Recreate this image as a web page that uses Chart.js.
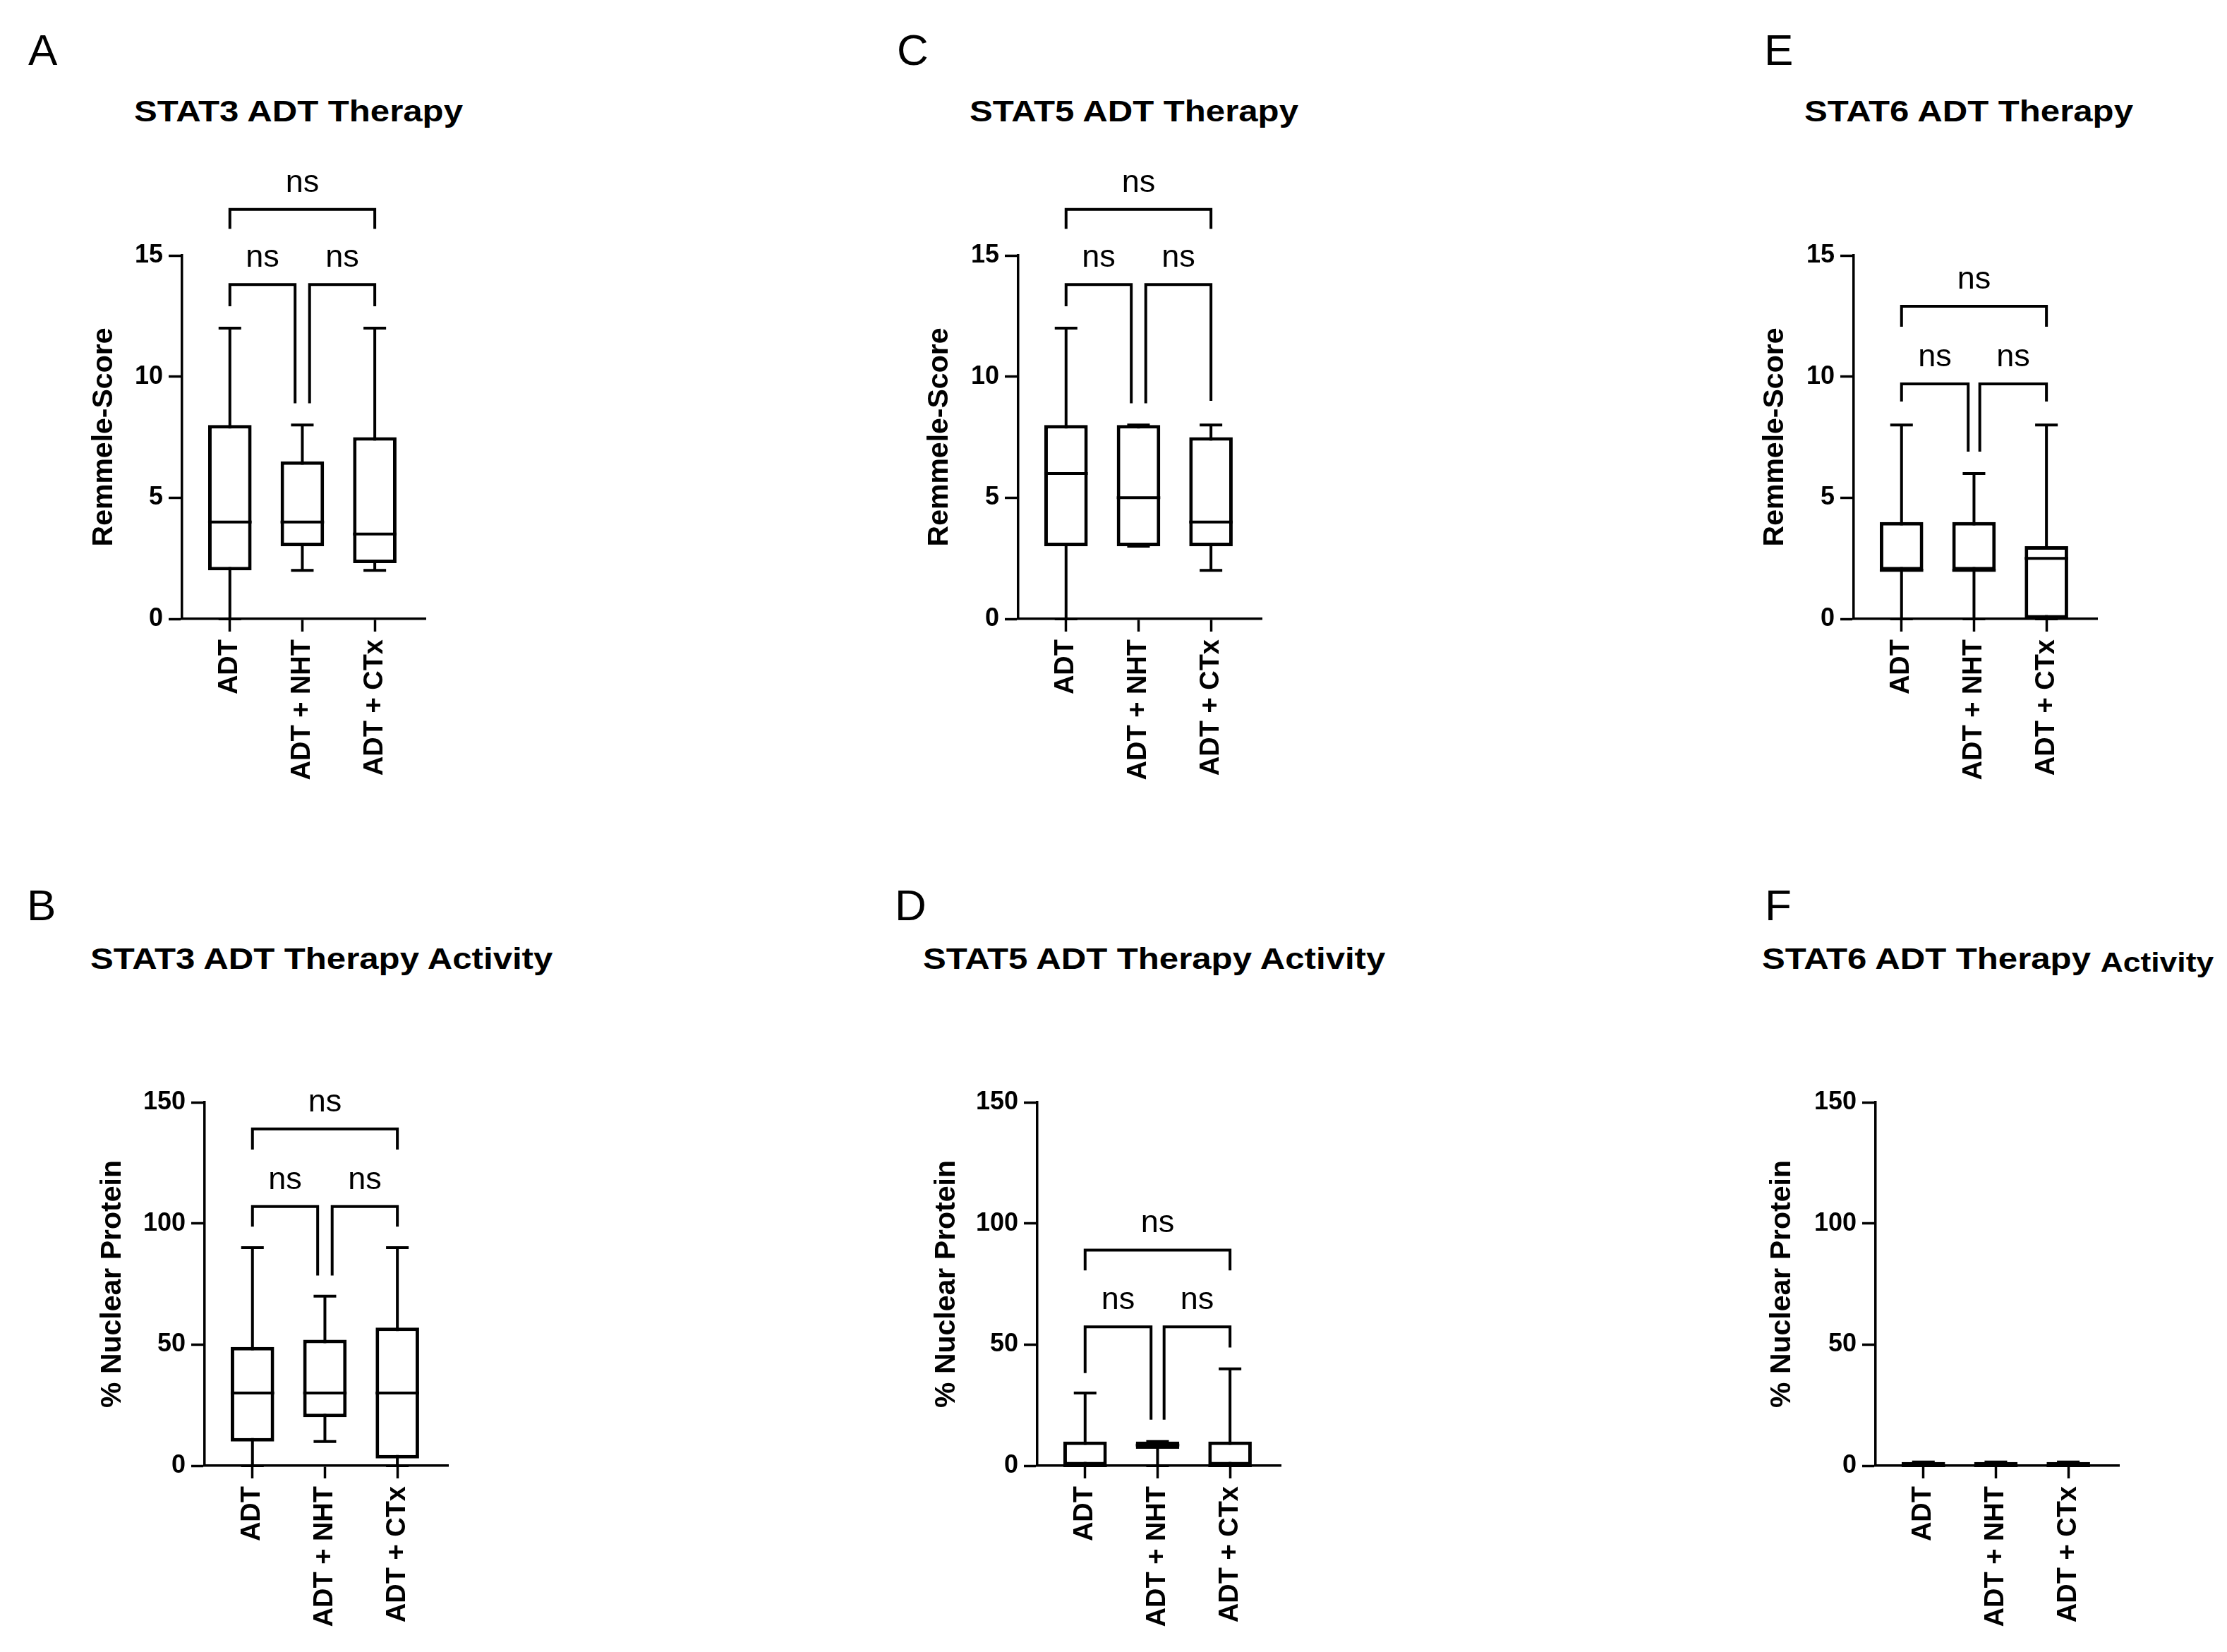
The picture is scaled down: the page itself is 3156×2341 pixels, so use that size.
<!DOCTYPE html>
<html>
<head>
<meta charset="utf-8">
<script src="https://cdn.jsdelivr.net/npm/chart.js@4.4.0/dist/chart.umd.min.js"></script>
<style>
html, body { margin: 0; padding: 0; background: #fff; }
body { width: 3156px; height: 2341px; position: relative; overflow: hidden; font-family: "Liberation Sans", Arial, sans-serif; color: #000; }
.letter { position: absolute; font-size: 62px; line-height: 1; font-weight: normal; }
.title { position: absolute; font-size: 42px; line-height: 1; font-weight: bold; transform: scaleX(1.17); transform-origin: 0 0; white-space: nowrap; }
.title span { font-size: 38px; position: relative; top: 4px; }
.panel { position: absolute; }
</style>
</head>
<body>
<script>
const groups = ["ADT", "ADT + NHT", "ADT + CTx"];
const scoreTicks = [0, 5, 10, 15];
const nuclearTicks = [0, 50, 100, 150];

// one row per group: [min, q1, median, q3, max]
const stat3Score = [[0, 2, 4, 8, 12], [2, 3, 4, 6.5, 8], [2, 2.3, 3.5, 7.5, 12]];
const stat5Score = [[0, 3, 6, 8, 12], [3, 3, 5, 8, 8], [2, 3, 4, 7.5, 8]];
const stat6Score = [[0, 2, 2, 4, 8], [0, 2, 2, 4, 6], [0, 0, 2.5, 3, 8]];
const stat3Nuclear = [[0, 10, 30, 49, 90], [10, 20, 30, 52, 70], [0, 3, 30, 57, 90]];
const stat5Nuclear = [[0, 0, 0, 10, 30], [0, 7, 8.5, 10, 10], [0, 0, 0, 10, 40]];
const stat6Nuclear = [[0, 0, 0, 1.5, 1.5], [0, 0, 0, 1.5, 1.5], [0, 0, 0, 1.5, 1.5]];

// significance brackets: [from group, to group, bar level, left leg end, right leg end]
const stat3ScoreNs = [[0, 2, 16.9, 16.1, 16.1], [0, 0.9, 13.8, 12.9, 8.9], [1.1, 2, 13.8, 8.9, 12.9]];
const stat5ScoreNs = [[0, 2, 16.9, 16.1, 16.1], [0, 0.9, 13.8, 12.9, 8.9], [1.1, 2, 13.8, 8.9, 9.0]];
const stat6ScoreNs = [[0, 2, 12.9, 12.06, 12.06], [0, 0.92, 9.7, 8.97, 6.9], [1.08, 2, 9.7, 6.9, 8.97]];
const stat3NuclearNs = [[0, 2, 139, 130.5, 130.5], [0, 0.9, 107, 98.7, 78.5], [1.1, 2, 107, 78.5, 98.7]];
const stat5NuclearNs = [[0, 2, 89, 80.6, 80.6], [0, 0.91, 57.3, 38.2, 19], [1.09, 2, 57.3, 19, 48.8]];
const stat6NuclearNs = [];

const Y_W = 180, PAD_TOP = 162, PAD_R = 20, PLOT_W = 345, PLOT_H = 515;

const panels = [
	{ letter: "A", lx: 40, ly: 92, title: "STAT3 ADT Therapy", tx: 190, ty: 173, axisX: 258, plotTop: 362, xH: 280, titlePad: 45, yTitle: "Remmele-Score", yTicks: scoreTicks, stats: stat3Score, ns: stat3ScoreNs },
	{ letter: "C", lx: 1271, ly: 92, title: "STAT5 ADT Therapy", tx: 1374, ty: 173, axisX: 1443, plotTop: 362, xH: 280, titlePad: 44, yTitle: "Remmele-Score", yTicks: scoreTicks, stats: stat5Score, ns: stat5ScoreNs },
	{ letter: "E", lx: 2500, ly: 92, title: "STAT6 ADT Therapy", tx: 2557, ty: 173, axisX: 2627, plotTop: 362, xH: 280, titlePad: 44, yTitle: "Remmele-Score", yTicks: scoreTicks, stats: stat6Score, ns: stat6ScoreNs },
	{ letter: "B", lx: 38, ly: 1304, title: "STAT3 ADT Therapy Activity", tx: 128, ty: 1374, axisX: 290, plotTop: 1562, xH: 260, titlePad: 25, yTitle: "% Nuclear Protein", yTicks: nuclearTicks, stats: stat3Nuclear, ns: stat3NuclearNs },
	{ letter: "D", lx: 1268, ly: 1304, title: "STAT5 ADT Therapy Activity", tx: 1308, ty: 1374, axisX: 1470, plotTop: 1562, xH: 260, titlePad: 27, yTitle: "% Nuclear Protein", yTicks: nuclearTicks, stats: stat5Nuclear, ns: stat5NuclearNs },
	{ letter: "F", lx: 2501, ly: 1304, title: "STAT6 ADT Therapy <span>Activity</span>", tx: 2497, ty: 1374, axisX: 2658, plotTop: 1562, xH: 260, titlePad: 23, yTitle: "% Nuclear Protein", yTicks: nuclearTicks, stats: stat6Nuclear, ns: stat6NuclearNs },
];

Chart.defaults.font.family = '"Liberation Sans", Arial, sans-serif';
Chart.defaults.color = "#000";

const axisGrid = (len) => ({
	display: true,
	offset: false,
	drawOnChartArea: false,
	drawTicks: true,
	tickLength: len,
	tickWidth: 3.5,
	tickColor: "#000",
});

const boxPlugin = (p) => ({
	id: "boxWhiskers",
	beforeDatasetsDraw(chart) {
		const { ctx, scales: { x, y } } = chart;
		const bars = chart.getDatasetMeta(0).data;
		ctx.save();
		ctx.strokeStyle = "#000";
		ctx.lineWidth = 4;
		p.stats.forEach((s, i) => {
			const cx = x.getPixelForValue(i);
			const cap = bars[i].width * 0.26;
			ctx.beginPath();
			ctx.moveTo(cx, y.getPixelForValue(s[0]));
			ctx.lineTo(cx, y.getPixelForValue(s[4]));
			[s[0], s[4]].forEach((v) => {
				ctx.moveTo(cx - cap, y.getPixelForValue(v));
				ctx.lineTo(cx + cap, y.getPixelForValue(v));
			});
			ctx.stroke();
		});
		ctx.restore();
	},
	afterDatasetsDraw(chart) {
		const { ctx, scales: { x, y } } = chart;
		const bars = chart.getDatasetMeta(0).data;
		ctx.save();
		ctx.strokeStyle = "#000";
		ctx.lineWidth = 4;
		p.stats.forEach((s, i) => {
			const cx = x.getPixelForValue(i);
			const hw = bars[i].width / 2;
			const my = y.getPixelForValue(s[2]);
			ctx.beginPath();
			ctx.moveTo(cx - hw, my);
			ctx.lineTo(cx + hw, my);
			ctx.stroke();
		});
		ctx.restore();
	},
	afterDraw(chart) {
		const { ctx, scales: { x, y } } = chart;
		ctx.save();
		ctx.strokeStyle = "#000";
		ctx.fillStyle = "#000";
		ctx.lineWidth = 4;
		ctx.lineJoin = "miter";
		ctx.font = '45px "Liberation Sans", Arial, sans-serif';
		ctx.textAlign = "center";
		ctx.textBaseline = "alphabetic";
		p.ns.forEach(([a, b, lvl, endA, endB]) => {
			const xa = x.getPixelForValue(a);
			const xb = x.getPixelForValue(b);
			const yl = y.getPixelForValue(lvl);
			ctx.beginPath();
			ctx.moveTo(xa, y.getPixelForValue(endA));
			ctx.lineTo(xa, yl);
			ctx.lineTo(xb, yl);
			ctx.lineTo(xb, y.getPixelForValue(endB));
			ctx.stroke();
			ctx.fillText("ns", (xa + xb) / 2, yl - 25);
		});
		ctx.restore();
	},
});

const makePanel = (p) => {
	const letter = document.createElement("div");
	letter.className = "letter";
	letter.textContent = p.letter;
	letter.style.left = p.lx + "px";
	letter.style.top = (p.ly - 52.5) + "px";
	document.body.appendChild(letter);

	const title = document.createElement("div");
	title.className = "title";
	title.innerHTML = p.title;
	title.style.left = p.tx + "px";
	title.style.top = (p.ty - 35.6) + "px";
	document.body.appendChild(title);

	const wrap = document.createElement("div");
	wrap.className = "panel";
	wrap.style.left = (p.axisX - Y_W) + "px";
	wrap.style.top = (p.plotTop - PAD_TOP) + "px";
	wrap.style.width = (Y_W + PLOT_W + PAD_R) + "px";
	wrap.style.height = (PAD_TOP + PLOT_H + p.xH) + "px";
	const canvas = document.createElement("canvas");
	wrap.appendChild(canvas);
	document.body.appendChild(wrap);

	new Chart(canvas, {
		type: "bar",
		data: {
			datasets: [{
				data: p.stats.map((s, i) => ({ x: i, y: [s[1], s[3]] })),
				backgroundColor: "#fff",
				borderColor: "#000",
				borderWidth: 5,
				borderSkipped: false,
				barPercentage: 0.6,
				categoryPercentage: 1,
			}],
		},
		options: {
			responsive: true,
			maintainAspectRatio: false,
			animation: false,
			layout: { padding: { top: PAD_TOP, left: 0, right: PAD_R, bottom: 0 } },
			plugins: { legend: { display: false }, tooltip: { enabled: false } },
			scales: {
				x: {
					type: "linear",
					min: -0.66,
					max: 2.7,
					offset: false,
					grid: axisGrid(18),
					border: { display: true, color: "#000", width: 3.5 },
					ticks: {
						autoSkip: false,
						minRotation: 90,
						maxRotation: 90,
						padding: 11,
						color: "#000",
						font: { size: 38, weight: "bold" },
						callback: (v) => groups[v],
					},
					afterBuildTicks: (s) => { s.ticks = groups.map((g, i) => ({ value: i })); },
					afterFit: (s) => { s.height = p.xH; },
				},
				y: {
					min: 0,
					max: p.yTicks[p.yTicks.length - 1],
					grid: axisGrid(19),
					border: { display: true, color: "#000", width: 3.5 },
					ticks: { padding: 8, color: "#000", font: { size: 36, weight: "bold" } },
					afterBuildTicks: (s) => { s.ticks = p.yTicks.map((v) => ({ value: v })); },
					title: {
						display: true,
						text: p.yTitle,
						color: "#000",
						font: { size: 41, weight: "bold" },
						padding: { top: p.titlePad, bottom: 0 },
					},
					afterFit: (s) => { s.width = Y_W; },
				},
			},
		},
		plugins: [boxPlugin(p)],
	});
};

panels.forEach(makePanel);
</script>
</body>
</html>
